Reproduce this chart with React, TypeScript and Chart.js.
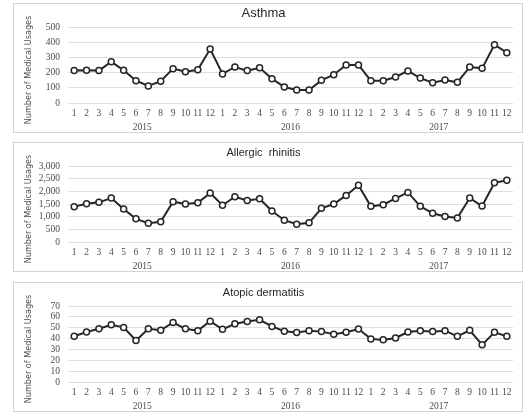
import React, { useEffect, useRef } from 'react';
import { Chart, registerables } from 'chart.js';

Chart.register(...registerables);

// Month-of-year labels, repeated for each of the three years
const MONTHS = ['1', '2', '3', '4', '5', '6', '7', '8', '9', '10', '11', '12'];
const YEARS = ['2015', '2016', '2017'];
const CATEGORIES = [...MONTHS, ...MONTHS, ...MONTHS];

// Monthly number of medical usages, Jan 2015 – Dec 2017
const ASTHMA = [
  213, 215, 213, 272, 215, 147, 112, 143, 226, 206, 219, 355,
  191, 237, 213, 232, 160, 105, 86, 86, 149, 186, 250, 250,
  147, 147, 171, 211, 164, 134, 151, 136, 237, 228, 384, 331,
];
const ALLERGIC_RHINITIS = [
  1396, 1513, 1565, 1735, 1304, 913, 743, 796, 1591, 1500, 1552, 1930,
  1448, 1787, 1643, 1709, 1226, 861, 704, 757, 1330, 1500, 1839, 2243,
  1409, 1474, 1722, 1957, 1409, 1135, 1004, 952, 1735, 1422, 2335, 2439,
];
const ATOPIC_DERMATITIS = [
  42.1, 46, 49, 52.7, 50.3, 38.2, 49, 47.6, 54.8, 49, 47.3, 56,
  48.5, 53.6, 55.8, 57.3, 51.2, 46.7, 45.5, 47.3, 46.4, 43.9, 45.8, 48.8,
  39.7, 38.8, 40.6, 46, 47.3, 46.4, 47.3, 42.1, 47.6, 34.2, 45.8, 42.1,
];

const Y_TITLE = 'Number of Medical Usages';
const TICK_FAMILY = "'Liberation Serif', 'DejaVu Serif', serif";
const TICK_FONT = { family: TICK_FAMILY, size: 9.5 };
const TICK_COLOR = '#4a4a4a';
const LINE_COLOR = '#262626';
const GRID_COLOR = '#dedede';

const CANVAS_W = 508;
const CANVAS_H = 128;

// Rotated y-axis caption and the year row under the month labels
const extraText = {
  id: 'extraText',
  afterDraw(chart: any) {
    const { ctx, chartArea } = chart;
    const xs = chart.scales.x;
    ctx.save();
    ctx.fillStyle = TICK_COLOR;
    ctx.font = `9.5px ${TICK_FAMILY}`;
    ctx.textAlign = 'center';
    ctx.textBaseline = 'middle';
    YEARS.forEach((year, i) => {
      const first = xs.getPixelForValue(i * 12);
      const last = xs.getPixelForValue(i * 12 + 11);
      ctx.fillText(year, (first + last) / 2, chartArea.bottom + 24.5);
    });
    ctx.restore();

    ctx.save();
    ctx.translate(15, (chartArea.top + chartArea.bottom) / 2 + 5);
    ctx.rotate(-Math.PI / 2);
    ctx.font = "9px 'Liberation Sans Narrow', 'DejaVu Sans Condensed', sans-serif";
    ctx.fillStyle = '#505050';
    ctx.textAlign = 'center';
    ctx.textBaseline = 'middle';
    ctx.fillText(Y_TITLE, 0, 0);
    ctx.restore();
  },
};

type PanelProps = {
  title: string;
  titleSize: number;
  values: number[];
  max: number;
  step: number;
  top: number;
};

function Panel({ title, titleSize, values, max, step, top }: PanelProps) {
  const ref = useRef<HTMLCanvasElement>(null);

  useEffect(() => {
    if (!ref.current) return;
    const lh = titleSize * 1.2;
    const padTop = 9.5 - lh / 2;
    const padBottom = 23 - padTop - lh;
    const chart = new Chart(ref.current, {
      type: 'line',
      data: {
        labels: CATEGORIES,
        datasets: [
          {
            data: values,
            borderColor: LINE_COLOR,
            borderWidth: 2,
            pointRadius: 3,
            pointBorderWidth: 1.5,
            pointBackgroundColor: '#ffffff',
            pointBorderColor: LINE_COLOR,
            tension: 0,
          },
        ],
      },
      options: {
        animation: false,
        responsive: false,
        maintainAspectRatio: false,
        layout: { padding: { left: 0, right: 9, top: 0, bottom: 0 } },
        plugins: {
          legend: { display: false },
          tooltip: { enabled: false },
          title: {
            display: true,
            text: title,
            color: '#262626',
            font: { family: "'Liberation Sans', Arial, sans-serif", size: titleSize, weight: 'normal' },
            padding: { top: padTop, bottom: padBottom },
          },
        },
        scales: {
          x: {
            type: 'category',
            offset: true,
            grid: { display: false, drawTicks: false },
            border: { display: false },
            ticks: {
              autoSkip: false,
              maxRotation: 0,
              minRotation: 0,
              padding: 4.5,
              color: TICK_COLOR,
              font: TICK_FONT,
            },
            afterFit: (s: any) => { s.height = 29; },
          },
          y: {
            min: 0,
            max,
            grid: { color: GRID_COLOR, lineWidth: 1, drawTicks: false },
            border: { display: false },
            ticks: {
              stepSize: step,
              autoSkip: false,
              padding: 8,
              color: TICK_COLOR,
              font: TICK_FONT,
              callback: (v: any) => Number(v).toLocaleString('en-US'),
            },
            afterFit: (s: any) => { s.width = 54; },
          },
        },
      },
      plugins: [extraText],
    });
    return () => chart.destroy();
  }, [title, titleSize, values, max, step]);

  return (
    <div
      style={{
        position: 'absolute',
        left: 13,
        top,
        width: CANVAS_W + 2,
        height: CANVAS_H + 2,
        boxSizing: 'border-box',
        border: '1px solid #d4d4d4',
        background: '#ffffff',
      }}
    >
      <canvas ref={ref} width={CANVAS_W} height={CANVAS_H} style={{ display: 'block', width: CANVAS_W, height: CANVAS_H }} />
    </div>
  );
}

export default function App() {
  return (
    <div style={{ position: 'absolute', left: 0, top: 0, width: 530, height: 416, background: '#ffffff', overflow: 'hidden' }}>
      <Panel title="Asthma" titleSize={13} values={ASTHMA} max={500} step={100} top={3} />
      <Panel title="Allergic  rhinitis" titleSize={11} values={ALLERGIC_RHINITIS} max={3000} step={500} top={142} />
      <Panel title="Atopic dermatitis" titleSize={11} values={ATOPIC_DERMATITIS} max={70} step={10} top={282} />
    </div>
  );
}
